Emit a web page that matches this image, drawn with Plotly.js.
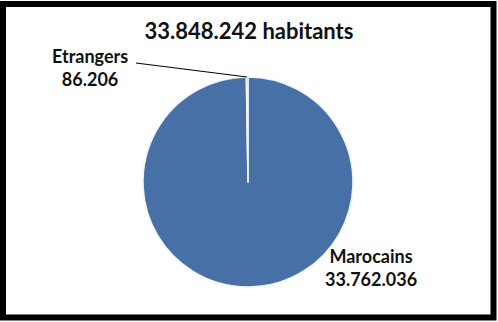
<!DOCTYPE html>
<html>
<head>
<meta charset="utf-8">
<script src="https://cdn.plot.ly/plotly-3.0.1.min.js"></script>
<style>
html,body{margin:0;padding:0;background:#fff;}
#chart{width:498px;height:322px;}
</style>
</head>
<body>
<div id="chart"></div>
<script>
const categories = ["Marocains", "Etrangers"];
const values = [33762036, 86206];
const totalText = "33.848.242 habitants";
const valueLabels = ["33.762.036", "86.206"];

const W = 498, H = 322;
const px = x => x / W;
const py = y => 1 - y / H;
const font = {family: "Lato, 'Open Sans', sans-serif", size: 18, color: "#111"};

const trace = {
  type: "pie",
  labels: categories,
  values: values,
  sort: false,
  direction: "clockwise",
  rotation: 0,
  textinfo: "none",
  hoverinfo: "label+value",
  marker: {colors: ["#4771a6", "#4771a6"], line: {color: "#f2f4f8", width: 1.5}},
  domain: {x: [px(143), px(353)], y: [py(287), py(77)]},
  showlegend: false
};

const layout = {
  width: W, height: H,
  margin: {l: 0, r: 0, t: 0, b: 0},
  paper_bgcolor: "#ffffff",
  showlegend: false,
  title: {text: "<b>" + totalText + "</b>", font: {family: font.family, size: 22, color: "#111"},
          x: 0.5, xanchor: "center", y: py(31), yanchor: "middle"},
  annotations: [
    {text: "<b>" + categories[1] + "</b><br><b>" + valueLabels[1] + "</b>", xref: "paper", yref: "paper",
     x: px(90), y: py(67), xanchor: "center", yanchor: "middle", showarrow: false,
     font: font, align: "center"},
    {text: "<b>" + categories[0] + "</b><br><b>" + valueLabels[0] + "</b>", xref: "paper", yref: "paper",
     x: px(371), y: py(267), xanchor: "center", yanchor: "middle", showarrow: false,
     font: font, align: "center"}
  ],
  shapes: [
    {type: "line", xref: "paper", yref: "paper", x0: px(136), y0: py(63), x1: px(247), y1: py(77),
     line: {color: "#000", width: 1}},
    {type: "rect", xref: "paper", yref: "paper", x0: px(3), y0: py(317.5), x1: px(493.5), y1: py(4),
     line: {color: "#000", width: 6}, fillcolor: "rgba(0,0,0,0)"}
  ]
};

Plotly.newPlot("chart", [trace], layout, {displayModeBar: false, staticPlot: true});
</script>
</body>
</html>
